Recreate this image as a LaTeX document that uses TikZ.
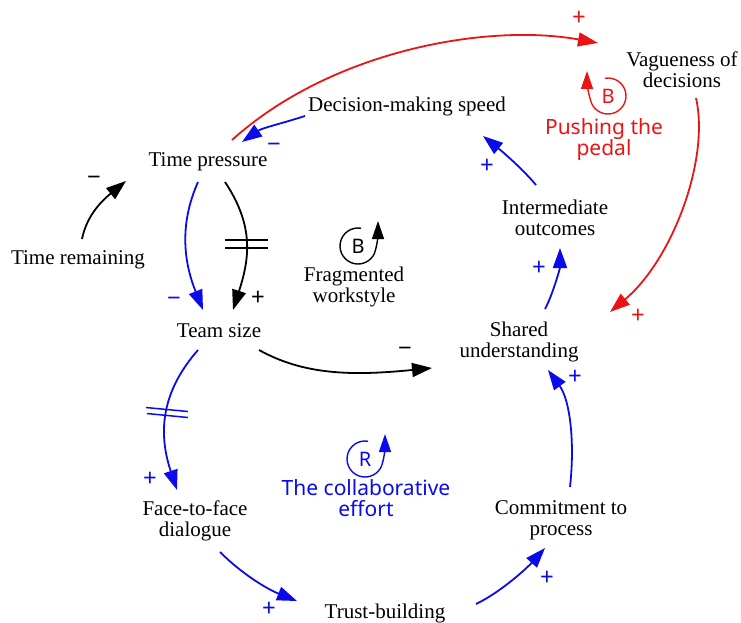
\documentclass[tikz,border=0pt]{standalone}
\usepackage{fontspec}
\setmainfont{Liberation Serif}
\newfontfamily\loopfont{Noto Sans}
\usetikzlibrary{arrows.meta}
\definecolor{cldblue}{RGB}{10,10,235}
\definecolor{cldred}{RGB}{235,20,20}

\tikzset{
  var/.style={align=center,inner sep=0pt,font=\fontsize{21}{21}\selectfont},
  looplbl/.style={align=center,inner sep=0pt,font=\loopfont\fontsize{21}{21}\selectfont},
  loopletter/.style={inner sep=0pt,font=\loopfont\fontsize{20}{20}\selectfont},
  sgn/.style={inner sep=0pt,font=\loopfont\bfseries\fontsize{24}{24}\selectfont},
  link/.style={line width=1.8pt,-{Triangle[length=20pt,width=14pt]}},
  hash/.style={line width=1.5pt},
  % loop symbol, arrow leaving on the right
  pics/loopright/.style={code={
    \draw[y=1pt,line width=1.4pt,-{Triangle[length=18pt,width=12pt]}]
      (80:18) arc[start angle=80,end angle=335,radius=18]
      .. controls +(70:10) and +(0,-12) .. (20,25);
  }},
  % loop symbol, arrow leaving on the left
  pics/loopleft/.style={code={
    \draw[y=1pt,line width=1.4pt,-{Triangle[length=18pt,width=12pt]}]
      (100:18) arc[start angle=100,end angle=-155,radius=18]
      .. controls +(110:10) and +(0,-12) .. (-21,25);
  }},
}

\begin{document}
\begin{tikzpicture}[x=1pt,y=-1pt]
\useasboundingbox (0,0) rectangle (741,623);

% variables
\node[var] (tp)  at (208,162) {Time pressure};
\node[var] (dms) at (407,106) {Decision-making speed};
\node[var] (vd)  at (682,70)  {Vagueness of\\decisions};
\node[var] (tr)  at (78,260)  {Time remaining};
\node[var] (io)  at (555,218) {Intermediate\\outcomes};
\node[var] (fw)  at (354,287) {Fragmented\\workstyle};
\node[var] (ts)  at (219,331) {Team size};
\node[var] (su)  at (519,342) {Shared\\understanding};
\node[var] (ff)  at (195,521) {Face-to-face\\dialogue};
\node[var] (cp)  at (561,520) {Commitment to\\process};
\node[var] (tb)  at (385,613) {Trust-building};

% loop names
\node[looplbl,text=cldred]  (pp) at (604,140) {Pushing the\\pedal};
\node[looplbl,text=cldblue] (ce) at (366,498) {The collaborative\\effort};

% loop symbols
\pic[black] at (358,246) {loopright};
\node[loopletter] (bfw) at (358,246) {B};
\pic[cldblue] at (365,459) {loopright};
\node[loopletter,text=cldblue] (rce) at (365,459) {R};
\pic[cldred] at (608,96) {loopleft};
\node[loopletter,text=cldred] (bpp) at (608,96) {B};

% red loop: pushing the pedal
\draw[link,cldred] ([shift={(24,-22)}]tp.center)
  .. controls +(100,-90) and +(-110,-20) .. ([shift={(-84,-27)}]vd.center);
\draw[link,cldred] ([shift={(14,28)}]vd.center)
  .. controls +(14,62) and +(62,-52) .. ([shift={(91,-30)}]su.center);

% links around time pressure
\draw[link,cldblue] ([shift={(-102,10)}]dms.center)
  .. controls +(-25,8) and +(20,-14) .. ([shift={(34,-20)}]tp.center);
\draw[link,black] ([shift={(4,-21)}]tr.center)
  .. controls +(5,-25) and +(-22,18) .. ([shift={(-82,19)}]tp.center);
\draw[link,cldblue] ([shift={(-10,20)}]tp.center)
  .. controls +(-20,45) and +(-18,-45) .. ([shift={(-16,-21)}]ts.center);
\draw[link,black] ([shift={(17,20)}]tp.center)
  .. controls +(30,45) and +(16,-50) .. coordinate[pos=0.5] (delayA) ([shift={(14,-21)}]ts.center);
\draw[hash,black] ([shift={(-21,-4)}]delayA) -- ++(43,0);
\draw[hash,black] ([shift={(-21,4)}]delayA) -- ++(43,0);

% team size to shared understanding
\draw[link,black] ([shift={(40,19)}]ts.center)
  .. controls +(45,25) and +(-80,8) .. ([shift={(-87,26)}]su.center);

% collaborative loop
\draw[link,cldblue] ([shift={(-21,19)}]ts.center)
  .. controls +(-35,40) and +(-20,-60) .. coordinate[pos=0.5] (delayB) ([shift={(-18,-31)}]ff.center);
\draw[hash,cldblue] ([shift={(-21,-5)}]delayB) -- ++(42,4);
\draw[hash,cldblue] ([shift={(-20,1)}]delayB) -- ++(41,4);
\draw[link,cldblue] ([shift={(25,31)}]ff.center)
  .. controls +(22,22) and +(-30,-12) .. ([shift={(-88,-12)}]tb.center);
\draw[link,cldblue] ([shift={(91,-9)}]tb.center)
  .. controls +(25,-12) and +(-18,20) .. ([shift={(-16,28)}]cp.center);
\draw[link,cldblue] ([shift={(9,-33)}]cp.center)
  .. controls +(5,-45) and +(22,30) .. ([shift={(29,28)}]su.center);
\draw[link,cldblue] ([shift={(26,-33)}]su.center)
  .. controls +(8,-15) and +(0,20) .. ([shift={(5,30)}]io.center);
\draw[link,cldblue] ([shift={(-19,-33)}]io.center)
  .. controls +(-15,-18) and +(15,12) .. ([shift={(76,30)}]dms.center);

% polarities
\node[sgn,text=cldred]  (s1)  at (579,18)  {+};
\node[sgn,text=cldred]  (s2)  at (638,316) {+};
\node[sgn,text=cldblue] (s3)  at (274,148) {−};
\node[sgn,text=black]   (s4)  at (94,181)  {−};
\node[sgn,text=cldblue] (s5)  at (174,302) {−};
\node[sgn,text=black]   (s6)  at (258,298) {+};
\node[sgn,text=black]   (s7)  at (405,352) {−};
\node[sgn,text=cldblue] (s8)  at (150,479) {+};
\node[sgn,text=cldblue] (s9)  at (269,609) {+};
\node[sgn,text=cldblue] (s10) at (547,578) {+};
\node[sgn,text=cldblue] (s11) at (575,377) {+};
\node[sgn,text=cldblue] (s12) at (539,268) {+};
\node[sgn,text=cldblue] (s13) at (487,166) {+};
\end{tikzpicture}
\end{document}
